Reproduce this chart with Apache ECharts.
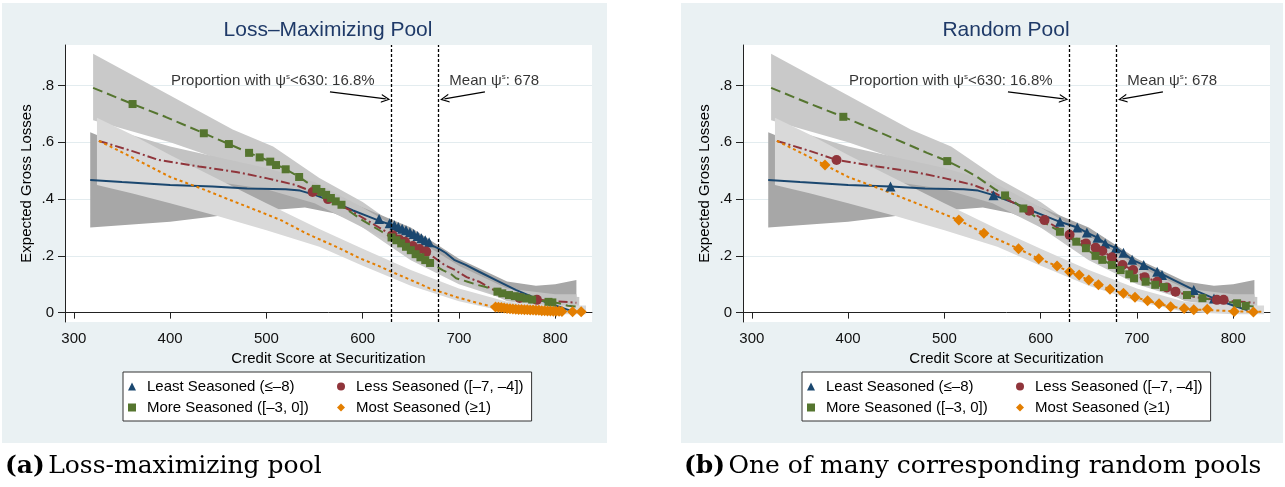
<!DOCTYPE html>
<html>
<head>
<meta charset="utf-8">
<script src="https://cdn.jsdelivr.net/npm/echarts@6.0.0/dist/echarts.min.js"></script>
<style>
  html, body { margin: 0; padding: 0; background: #fff; }
  #main { width: 1285px; height: 487px; }
</style>
</head>
<body>
<div id="main"></div>
<script>
// axis ticks
const xTicks = [300, 400, 500, 600, 700, 800];
const yTicks = [0, 0.2, 0.4, 0.6, 0.8];

// legend names
const groupNames = ['Least Seasoned (≤–8)', 'Less Seasoned ([–7, –4])', 'More Seasoned ([–3, 0])', 'Most Seasoned (≥1)'];

// fitted lines (same in both panels)
const leastFitX = [317, 350, 400, 444, 480, 520, 535, 551, 570, 590, 605, 620, 638, 648, 659, 667, 678, 686, 695, 707, 721, 740, 759, 780, 800, 815];
const leastFitY = [0.467, 0.46, 0.45, 0.444, 0.437, 0.435, 0.43, 0.414, 0.39, 0.36, 0.34, 0.32, 0.30, 0.282, 0.264, 0.244, 0.227, 0.211, 0.186, 0.168, 0.144, 0.112, 0.08, 0.05, 0.025, 0.008];
const lessFitX = [326, 360, 388, 430, 470, 501, 530, 553, 570, 588, 604, 630, 647, 664, 674, 685, 696, 708, 721, 731, 740, 760, 783, 800, 822];
const lessFitY = [0.605, 0.57, 0.538, 0.515, 0.495, 0.473, 0.45, 0.42, 0.39, 0.359, 0.326, 0.274, 0.244, 0.217, 0.195, 0.168, 0.15, 0.125, 0.109, 0.089, 0.074, 0.055, 0.045, 0.04, 0.035];
const moreFitX = [320, 361, 395, 435, 461, 482, 503, 520, 534, 552, 563, 582, 600, 620, 637, 647, 657, 664, 674, 683, 692, 697, 709, 719, 728, 752, 768, 790, 804, 813, 825];
const moreFitY = [0.792, 0.735, 0.69, 0.632, 0.594, 0.563, 0.534, 0.505, 0.478, 0.436, 0.413, 0.367, 0.325, 0.285, 0.25, 0.227, 0.2, 0.186, 0.168, 0.15, 0.135, 0.121, 0.109, 0.098, 0.09, 0.062, 0.051, 0.04, 0.033, 0.024, 0.02];
const mostFitX = [326, 350, 376, 400, 432, 460, 490, 515, 541, 577, 598, 617, 630, 650, 672, 686, 698, 711, 723, 735, 749, 760, 780, 800, 822, 830];
const mostFitY = [0.605, 0.565, 0.52, 0.478, 0.438, 0.40, 0.36, 0.326, 0.28, 0.225, 0.19, 0.164, 0.144, 0.115, 0.082, 0.068, 0.054, 0.042, 0.031, 0.021, 0.015, 0.011, 0.008, 0.005, 0.003, 0.003];

// confidence bands (same in both panels)
const moreBandX = [320, 400, 465, 507, 555, 600, 650, 700, 750, 800, 825];
const moreBandHi = [0.912, 0.765, 0.645, 0.585, 0.474, 0.39, 0.27, 0.16, 0.085, 0.06, 0.055];
const moreBandLo = [0.678, 0.60, 0.525, 0.47, 0.40, 0.30, 0.185, 0.10, 0.045, 0.015, 0.01];
const leastBandX = [317, 400, 460, 500, 540, 570, 600, 650, 700, 750, 780, 800, 822];
const leastBandHi = [0.636, 0.52, 0.46, 0.445, 0.44, 0.41, 0.37, 0.30, 0.19, 0.11, 0.095, 0.10, 0.115];
const leastBandLo = [0.30, 0.32, 0.345, 0.36, 0.37, 0.35, 0.31, 0.24, 0.14, 0.07, 0.04, 0.04, 0.055];
const lessBandX = [326, 400, 460, 500, 550, 600, 650, 700, 750, 800, 822];
const lessBandHi = [0.66, 0.585, 0.54, 0.51, 0.46, 0.37, 0.27, 0.165, 0.085, 0.065, 0.065];
const lessBandLo = [0.54, 0.49, 0.455, 0.435, 0.385, 0.30, 0.215, 0.12, 0.04, 0.02, 0.01];
const mostBandX = [324, 361, 400, 450, 500, 555, 600, 650, 700, 750, 800, 832];
const mostBandHi = [0.687, 0.626, 0.555, 0.47, 0.385, 0.295, 0.225, 0.15, 0.085, 0.038, 0.025, 0.025];
const mostBandLo = [0.45, 0.42, 0.385, 0.34, 0.29, 0.232, 0.165, 0.095, 0.04, 0.002, -0.006, -0.006];

// markers, loss-maximizing pool
const lossLeastX = [617, 628, 633, 637, 641, 645, 649, 653, 657, 661, 665, 669];
const lossLeastY = [0.33, 0.315, 0.308, 0.302, 0.296, 0.29, 0.283, 0.277, 0.27, 0.262, 0.255, 0.248];
const lossLessX = [548, 564, 631, 638, 644, 652, 659, 666, 763, 781];
const lossLessY = [0.425, 0.40, 0.273, 0.258, 0.25, 0.235, 0.224, 0.215, 0.052, 0.045];
const lossMoreX = [361, 435, 461, 482, 493, 504, 510, 520, 534, 552, 557, 562, 567, 572, 578, 630, 635, 640, 645, 650, 655, 660, 665, 670, 740, 745, 752, 758, 764, 770, 776, 793, 797];
const lossMoreY = [0.735, 0.632, 0.594, 0.563, 0.547, 0.532, 0.52, 0.505, 0.478, 0.436, 0.425, 0.415, 0.404, 0.392, 0.38, 0.265, 0.255, 0.244, 0.232, 0.22, 0.206, 0.195, 0.185, 0.175, 0.074, 0.068, 0.062, 0.058, 0.054, 0.05, 0.046, 0.038, 0.036];
const lossMostX = [738, 741, 744, 747, 750, 753, 756, 759, 762, 765, 768, 771, 774, 777, 780, 783, 786, 789, 792, 795, 798, 801, 804, 807, 818, 827];
const lossMostY = [0.02, 0.019, 0.018, 0.016, 0.015, 0.014, 0.013, 0.012, 0.011, 0.011, 0.01, 0.01, 0.009, 0.009, 0.008, 0.008, 0.007, 0.007, 0.006, 0.006, 0.005, 0.005, 0.005, 0.004, 0.003, 0.003];

// markers, random pool
const randLeastX = [444, 551, 620, 638, 648, 659, 667, 678, 686, 695, 707, 721, 726, 759, 780];
const randLeastY = [0.444, 0.414, 0.32, 0.30, 0.282, 0.264, 0.244, 0.227, 0.211, 0.186, 0.168, 0.144, 0.133, 0.08, 0.05];
const randLessX = [388, 588, 604, 630, 647, 657, 664, 674, 685, 696, 708, 721, 731, 740, 783, 790];
const randLessY = [0.538, 0.359, 0.326, 0.274, 0.244, 0.229, 0.217, 0.195, 0.168, 0.15, 0.125, 0.109, 0.089, 0.074, 0.045, 0.045];
const randMoreX = [395, 503, 563, 582, 620, 637, 647, 657, 664, 674, 683, 692, 697, 709, 719, 728, 752, 768, 804, 813];
const randMoreY = [0.69, 0.534, 0.413, 0.367, 0.285, 0.25, 0.227, 0.2, 0.186, 0.168, 0.15, 0.135, 0.121, 0.109, 0.098, 0.09, 0.062, 0.051, 0.033, 0.024];
const randMostX = [376, 515, 541, 577, 598, 617, 630, 640, 650, 660, 672, 686, 698, 711, 723, 735, 749, 759, 773, 801, 821];
const randMostY = [0.52, 0.326, 0.28, 0.225, 0.19, 0.164, 0.144, 0.133, 0.115, 0.098, 0.082, 0.068, 0.054, 0.042, 0.031, 0.021, 0.015, 0.01, 0.012, 0.004, 0.002];

// reference lines
const cutoffScore = 630;
const meanScore = 678;

const navy = '#1a476f', maroon = '#90353b', forest = '#55752f', dkorange = '#e37e00';
const font = 'Liberation Sans';
const zip = (xs, ys) => xs.map((x, i) => [x, ys[i]]);

const fits = [
  { x: leastFitX, y: leastFitY, color: navy, type: 'solid' },
  { x: lessFitX, y: lessFitY, color: maroon, type: [9, 3, 2, 3] },
  { x: moreFitX, y: moreFitY, color: forest, type: [10, 5] },
  { x: mostFitX, y: mostFitY, color: dkorange, type: [3, 3] },
];
const bands = [
  { x: moreBandX, lo: moreBandLo, hi: moreBandHi, color: '#c9c9c9' },
  { x: leastBandX, lo: leastBandLo, hi: leastBandHi, color: '#a7a7a7' },
  { x: lessBandX, lo: lessBandLo, hi: lessBandHi, color: '#c3c3c3' },
  { x: mostBandX, lo: mostBandLo, hi: mostBandHi, color: '#d9d9d9' },
];
const markerStyle = [
  { symbol: 'triangle', size: 10, color: navy },
  { symbol: 'circle', size: 10, color: maroon },
  { symbol: 'rect', size: 8, color: forest },
  { symbol: 'diamond', size: 11, color: dkorange },
];
const panels = [
  [[lossLeastX, lossLeastY], [lossLessX, lossLessY], [lossMoreX, lossMoreY], [lossMostX, lossMostY]],
  [[randLeastX, randLeastY], [randLessX, randLessY], [randMoreX, randMoreY], [randMostX, randMostY]],
];
const gridLeft = [65, 743];
const panelLeft = [2, 681];

const series = [];
panels.forEach((marks, gi) => {
  const ax = { xAxisIndex: gi, yAxisIndex: gi };
  // 置信带：上沿 + 反向下沿 组成多边形
  bands.forEach(b => {
    series.push({
      type: 'custom', ...ax, silent: true, z: 1,
      data: [[b.x[0], b.hi[0]]],
      renderItem: (params, api) => {
        const upper = b.x.map((x, i) => api.coord([x, b.hi[i]]));
        const lower = b.x.map((x, i) => api.coord([x, b.lo[i]])).reverse();
        return { type: 'polygon', shape: { points: upper.concat(lower) }, style: { fill: b.color, stroke: null } };
      },
    });
  });
  // 拟合线
  fits.forEach((f, k) => {
    series.push({ type: 'line', ...ax, name: 'fit' + gi + k, data: zip(f.x, f.y), symbol: 'none', lineStyle: { color: f.color, width: 2, type: f.type }, silent: true, z: 2 });
  });
  // 点
  marks.forEach((m, k) => {
    const s = markerStyle[k];
    series.push({ type: 'scatter', ...ax, name: groupNames[k], data: zip(m[0], m[1]), symbol: s.symbol, symbolSize: s.size, itemStyle: { color: s.color, opacity: 1 }, silent: true, z: 3 });
  });
  // 注释文字 + 竖线
  series.push({
    type: 'scatter', ...ax, silent: true, z: 5, symbolSize: 0,
    data: [
      { value: [401, 0.815], label: { formatter: '{a|Proportion with ψ}{s|s}{a|<' + cutoffScore + ': 16.8%}' } },
      { value: [690, 0.815], label: { formatter: '{a|Mean ψ}{s|s}{a|: ' + meanScore + '}' } },
    ],
    label: {
      show: true, position: 'right', distance: 0,
      rich: {
        a: { fontSize: 15, fontFamily: font, color: '#000', lineHeight: 18 },
        s: { fontSize: 8, fontFamily: font, color: '#000', verticalAlign: 'top', lineHeight: 10 },
      },
    },
    markLine: {
      silent: true, symbol: ['none', 'none'], label: { show: false },
      lineStyle: { color: '#000', width: 1.3, type: [3, 2] },
      data: [{ xAxis: cutoffScore }, { xAxis: meanScore }],
    },
  });
  // 箭头
  series.push({
    type: 'line', ...ax, data: [], silent: true, z: 5,
    markLine: {
      silent: true, label: { show: false },
      symbol: ['none', 'path://M0,10 L5,0 L10,10 L8.6,10 L5,2.8 L1.4,10 Z'], symbolSize: [9, 9],
      lineStyle: { color: '#000', width: 1.2, type: 'solid' },
      data: [
        [{ coord: [566, 0.778] }, { coord: [624, 0.753] }],
        [{ coord: [727, 0.778] }, { coord: [685, 0.753] }],
      ],
    },
  });
});

const grid = gridLeft.map(l => ({ left: l, top: 45, width: 527, height: 277, show: true, backgroundColor: '#fff', borderWidth: 0 }));
const xAxis = gridLeft.map((l, gi) => ({
  type: 'value', gridIndex: gi, min: 290.8, max: 838.2,
  name: 'Credit Score at Securitization', nameLocation: 'middle', nameGap: 23,
  nameTextStyle: { fontSize: 15, fontFamily: font, color: '#000' },
  axisLine: { show: true, lineStyle: { color: '#222', width: 1 } },
  axisTick: { show: true, length: 6, customValues: xTicks, lineStyle: { color: '#222' } },
  axisLabel: { customValues: xTicks, margin: 9, fontSize: 15, fontFamily: font, color: '#111' },
  splitLine: { show: false },
}));
const yAxis = gridLeft.map((l, gi) => ({
  type: 'value', gridIndex: gi, min: -0.033, max: 0.943,
  name: 'Expected Gross Losses', nameLocation: 'middle', nameGap: 31,
  nameTextStyle: { fontSize: 15, fontFamily: font, color: '#000' },
  axisLine: { show: true, lineStyle: { color: '#222', width: 1 } },
  axisTick: { show: true, length: 7, customValues: yTicks, lineStyle: { color: '#222' } },
  axisLabel: { customValues: yTicks, margin: 11, fontSize: 15, fontFamily: font, color: '#111',
    formatter: v => (v === 0 ? '0' : String(v).replace('0.', '.')) },
  splitLine: { show: true, customValues: yTicks, lineStyle: { color: '#e3ecef', width: 1 } },
}));

const legend = gridLeft.map((l, gi) => ({
  left: panelLeft[gi] + 121, top: 372, width: 420, orient: 'horizontal',
  itemGap: 0, itemWidth: 8, itemHeight: 8,
  backgroundColor: '#fff', borderColor: '#333', borderWidth: 1, borderRadius: 0,
  padding: [4, 8, 3, 5],
  textStyle: { fontSize: 15, fontFamily: font, color: '#000', lineHeight: 21, padding: [0, 0, 0, 6] },
  selectedMode: false,
  data: groupNames.map((n, k) => ({
    name: n, icon: markerStyle[k].symbol,
    textStyle: k % 2 === 0 ? { width: 190 } : {},
  })),
}));

const titles = ['Loss–Maximizing Pool', 'Random Pool'];
const captions = [['(a)', 'Loss-maximizing pool'], ['(b)', 'One of many corresponding random pools']];
const graphic = [];
gridLeft.forEach((l, gi) => {
  graphic.push({ type: 'rect', z: -10, shape: { x: panelLeft[gi], y: 3, width: gi ? 602 : 605, height: 440 }, style: { fill: '#eaf1f3' } });
  graphic.push({ type: 'text', z: 10, style: { x: l + 263, y: 30, text: titles[gi], textAlign: 'center', textVerticalAlign: 'middle', fontSize: 21, fontFamily: font, fill: '#1f3a68' } });
  graphic.push({ type: 'text', z: 10, style: {
    x: panelLeft[gi] + 3, y: 466, textVerticalAlign: 'middle',
    text: '{b|' + captions[gi][0] + '} {r|' + captions[gi][1] + '}',
    rich: {
      b: { fontSize: 25, fontFamily: 'DejaVu Serif', fontWeight: 'bold', fill: '#000' },
      r: { fontSize: 25, fontFamily: 'DejaVu Serif', fill: '#000' },
    },
  } });
});

const myChart = echarts.init(document.getElementById('main'));
myChart.setOption({
  animation: false,
  grid, xAxis, yAxis, legend, graphic, series,
});
</script>
</body>
</html>
